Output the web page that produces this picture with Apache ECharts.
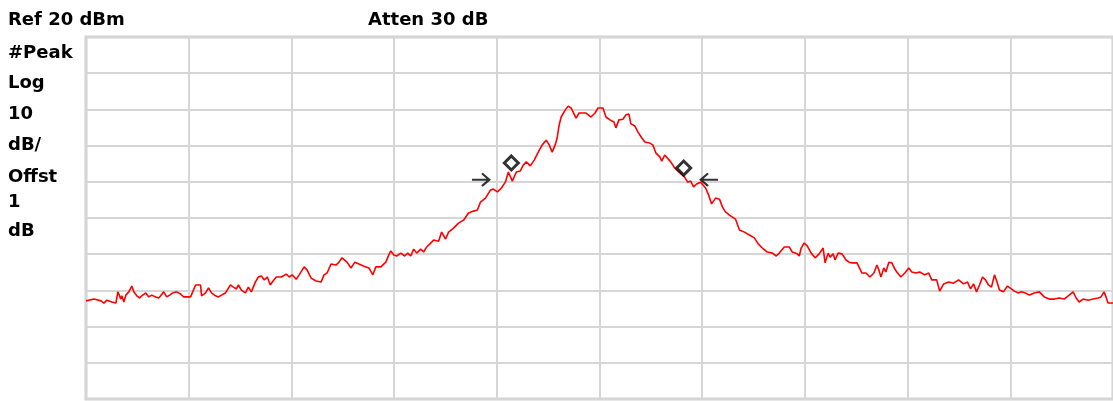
<!DOCTYPE html>
<html>
<head>
<meta charset="utf-8">
<script src="https://cdn.jsdelivr.net/npm/echarts@6/dist/echarts.min.js"></script>
<style>
html,body{margin:0;padding:0;background:#fff;}
#chart{width:1113px;height:401px;}
</style>
</head>
<body>
<div id="chart"></div>
<script>
// Trace position (trace bins from left edge of screen, 103.1 bins / division)
const traceX = [0,1,8,15,18,21,26,30,32,35,36,38,40,43,46,48,51,54,56,60,63,66,70,73,75,78,81,84,87,91,95,98,102,105,110,115,116,120,123,126,130,133,136,140,142,145,148,151,153,156,160,163,166,170,173,176,179,182,185,187,191,196,201,204,207,211,214,219,222,226,231,236,239,242,246,251,254,257,262,266,270,274,279,284,288,291,296,301,304,306,309,312,316,320,323,326,329,332,336,339,342,345,349,354,357,361,364,369,374,379,384,389,393,396,401,406,409,413,417,421,424,428,432,436,439,442,446,450,454,458,462,465,468,471,473,475,477,481,484,487,492,495,502,507,511,514,516,519,522,526,530,532,535,539,542,545,547,551,554,558,561,566,569,572,576,578,581,583,587,591,594,601,604,607,610,613,617,622,625,628,632,636,639,642,646,652,656,661,666,671,675,679,684,689,693,696,701,706,709,714,716,718,721,724,728,732,736,740,742,745,747,750,752,755,759,763,766,769,774,779,783,787,791,794,796,798,801,803,806,809,812,814,818,822,826,829,833,837,842,846,849,854,857,861,866,871,876,881,885,888,891,894,897,900,903,906,909,912,915,917,921,925,929,932,936,939,943,947,952,957,962,967,972,977,982,987,991,994,997,1001,1006,1011,1016,1019,1022,1024,1026,1031];
// Trace level, dBm
const traceLevel = [-52.9,-52.7,-52.4,-52.9,-53.5,-52.7,-53.2,-53.5,-50.4,-52.4,-51.5,-53.2,-51.3,-50.4,-48.8,-50.4,-51.5,-52.1,-51.5,-50.7,-51.8,-51.3,-51.8,-52.1,-51.5,-50.4,-51.8,-51.3,-50.7,-50.4,-51.0,-51.8,-51.8,-51.8,-48.5,-48.5,-51.5,-50.7,-49.3,-50.7,-51.5,-51.8,-51.3,-50.7,-50.4,-48.5,-49.1,-49.6,-48.5,-49.9,-50.7,-49.1,-50.4,-47.7,-46.3,-46.0,-47.1,-46.3,-48.5,-47.7,-46.3,-46.3,-45.5,-46.3,-45.7,-46.9,-45.7,-43.5,-44.4,-46.6,-47.4,-47.7,-45.7,-45.2,-42.7,-43.0,-42.2,-41.0,-42.2,-43.8,-42.2,-42.7,-43.3,-43.8,-45.7,-43.5,-43.5,-42.2,-40.2,-39.1,-40.2,-40.5,-39.7,-40.5,-39.7,-40.5,-38.6,-39.7,-38.6,-39.4,-38.0,-37.2,-36.1,-36.4,-33.9,-35.8,-33.9,-32.8,-31.4,-30.6,-28.6,-28.1,-27.8,-25.6,-24.5,-22.3,-22.0,-22.8,-21.7,-20.1,-17.3,-19.8,-17.3,-17.0,-15.4,-14.5,-15.6,-14.0,-11.8,-9.8,-8.5,-9.8,-11.8,-9.8,-7.9,-4.3,-2.1,-0.2,0.9,0.4,-2.4,-1.0,-1.0,-2.1,-1.0,0.4,0.7,0.4,-2.1,-2.9,-3.5,-5.1,-2.9,-2.7,-1.5,-1.3,-4.0,-4.6,-6.2,-7.9,-9.0,-9.3,-9.8,-12.0,-13.1,-14.3,-12.6,-12.3,-14.5,-16.2,-17.0,-18.7,-20.1,-19.8,-21.4,-20.6,-20.1,-21.7,-23.6,-26.1,-24.5,-24.8,-27.0,-28.3,-29.2,-30.3,-33.3,-33.9,-34.7,-35.5,-37.2,-38.3,-39.4,-39.7,-40.5,-39.7,-38.0,-38.0,-39.4,-39.9,-40.5,-38.3,-36.9,-37.7,-39.7,-41.0,-39.9,-38.3,-42.4,-39.7,-40.8,-39.9,-41.6,-39.7,-39.9,-41.6,-42.2,-42.4,-42.4,-45.2,-45.2,-46.3,-45.2,-43.0,-44.4,-46.3,-43.8,-44.9,-42.2,-42.4,-44.1,-44.9,-46.3,-45.2,-43.8,-44.9,-45.2,-44.9,-45.7,-45.2,-47.1,-47.1,-50.2,-48.2,-47.7,-48.0,-47.1,-48.2,-47.7,-49.6,-48.2,-50.4,-48.5,-46.3,-47.1,-48.5,-49.1,-45.7,-48.0,-49.9,-50.4,-48.8,-49.6,-50.2,-50.7,-50.4,-50.7,-51.3,-50.7,-50.4,-51.8,-52.4,-52.4,-52.1,-52.4,-51.3,-50.4,-52.1,-53.2,-52.4,-52.7,-52.4,-52.1,-51.8,-50.4,-51.8,-53.5,-53.5];
// Markers (diamonds)
const markerX = [427, 600];
const markerLevel = [-14.8, -16.2];
// Arrow indicators
const arrowRightX = [397];
const arrowLeftX = [625];
const arrowLevel = [-19.4];
// Y axis
const refLevel = 20;
const dbPerDiv = 10;
const numDiv = 10;
const xSpan = 1031;
// Annotation texts
const topTexts = ['Ref 20 dBm', 'Atten 30 dB'];
const sideTexts = ['#Peak', 'Log', '10', 'dB/', 'Offst', '1', 'dB'];

const chart = echarts.init(document.getElementById('chart'), null, {renderer: 'canvas'});
const FONT = '"DejaVu Sans", sans-serif';
const arrowPath = 'path://M0,8.8 L15,8.8 L9.5,3.3 L11.2,1.6 L19.6,10 L11.2,18.4 L9.5,16.7 L15,11.2 L0,11.2 Z';
const arrowPathL = 'path://M19.6,8.8 L4.6,8.8 L10.1,3.3 L8.4,1.6 L0,10 L8.4,18.4 L10.1,16.7 L4.6,11.2 L19.6,11.2 Z';

const sideY = [52, 82, 113, 144, 176, 201, 230];
const graphics = [];
const topX = [8, 368];
topTexts.forEach((t, i) => graphics.push({type:'text', left: topX[i], top: 11,
  style:{text:t, font:'bold 18px ' + FONT, fill:'#000'}}));
sideTexts.forEach((t, i) => graphics.push({type:'text', left: 8, top: sideY[i] - 8,
  style:{text:t, font:'bold 18px ' + FONT, fill:'#000'}}));

chart.setOption({
  animation: false,
  backgroundColor: '#fff',
  grid: {left: 86, top: 37, width: xSpan, height: 362, show: true,
    borderColor: '#d0d0d0', borderWidth: 3, containLabel: false},
  xAxis: {type: 'value', min: 0, max: xSpan, interval: xSpan / numDiv,
    axisLine: {show: false}, axisTick: {show: false}, axisLabel: {show: false},
    splitLine: {show: true, lineStyle: {color: '#d6d6d6', width: 2}}},
  yAxis: {type: 'value', min: refLevel - dbPerDiv * numDiv, max: refLevel, interval: dbPerDiv,
    axisLine: {show: false}, axisTick: {show: false}, axisLabel: {show: false},
    splitLine: {show: true, lineStyle: {color: '#d6d6d6', width: 2}}},
  graphic: graphics,
  series: [
    {type: 'line', data: traceX.map((x, i) => [x, traceLevel[i]]), showSymbol: false,
      lineStyle: {color: '#ff0000', width: 1.6}, z: 3},
    {type: 'scatter', data: markerX.map((x, i) => [x, markerLevel[i]]), symbol: 'diamond',
      symbolSize: [14, 14], itemStyle: {color: '#fff', borderColor: '#000', borderWidth: 3}, z: 5},
    {type: 'scatter', data: arrowRightX.map((x) => [x, arrowLevel[0]]), symbol: arrowPath,
      symbolSize: [19, 14], itemStyle: {color: '#000'}, z: 5},
    {type: 'scatter', data: arrowLeftX.map((x) => [x, arrowLevel[0]]), symbol: arrowPathL,
      symbolSize: [19, 14], itemStyle: {color: '#000'}, z: 5}
  ]
});
</script>
</body>
</html>
